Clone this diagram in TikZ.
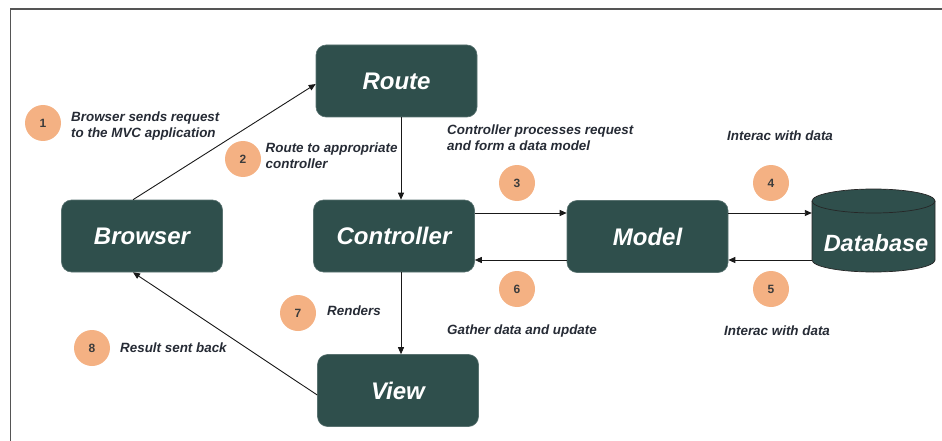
\documentclass[tikz,border=0pt]{standalone}
\usepackage{fontspec}
\setmainfont{Liberation Sans}
\usetikzlibrary{arrows.meta,calc}
\definecolor{boxfill}{HTML}{2F4F4C}
\definecolor{peach}{HTML}{F4B183}
\definecolor{numcol}{HTML}{3C3C3C}
\definecolor{labcol}{HTML}{262B35}
\definecolor{framecol}{HTML}{555555}
\tikzset{
  mvcbox/.style={rectangle, rounded corners=10pt, fill=boxfill, draw=boxfill!80!white, line width=0.6pt,
    minimum width=161pt, minimum height=72pt, inner sep=0pt, text=white,
    font=\fontsize{24}{28}\selectfont\bfseries\itshape},
  numcirc/.style={circle, fill=peach, minimum size=36pt, inner sep=0pt, text=numcol,
    font=\fontsize{12}{14}\selectfont\bfseries},
  lab/.style={anchor=north west, inner sep=0pt, align=left, text=labcol,
    font=\fontsize{13.4}{16}\selectfont\bfseries\itshape},
  conn/.style={draw=black!90, line width=0.9pt, -{Triangle[length=7pt,width=6pt]}},
  plainconn/.style={draw=black!90, line width=0.9pt}
}
\begin{document}
\begin{tikzpicture}[x=1pt,y=-1pt]
\useasboundingbox (0,0) rectangle (942,441);
% frame
\draw[framecol, line width=1.8pt] (942,9) -- (10.5,9) -- (10.5,441);

% boxes
\node[mvcbox] (route) at (396.5,81) {Route};
\node[mvcbox] (browser) at (142,236) {Browser};
\node[mvcbox] (controller) at (394,236) {Controller};
\node[mvcbox] (model) at (647.5,236.5) {Model};
\node[mvcbox] (view) at (398,390.5) {View};

% database cylinder
\node[minimum width=123pt, minimum height=84pt, inner sep=0pt] (db) at (873.5,230.5) {};
\filldraw[fill=boxfill, draw=black!85, line width=0.7pt]
  (812,201) -- (812,260) arc[start angle=180, end angle=360, x radius=61.5pt, y radius=12pt]
  -- (935,201) arc[start angle=0, end angle=180, x radius=61.5pt, y radius=12pt] -- cycle;
\draw[black!85, line width=0.7pt] (812,201) arc[start angle=180, end angle=360, x radius=61.5pt, y radius=12pt];
\node[text=white, font=\fontsize{23.5}{28}\selectfont\bfseries\itshape, inner sep=0pt] (dbtext) at (876,243) {Database};

% connectors
\draw[conn] ($(browser.north)+(-9,0)$) -- ($(route.west)+(0,3)$);
\draw[conn] ($(route.south)+(4.5,0)$) -- ($(controller.north)+(7,0)$);
\draw[conn] ($(controller.east)+(0,-23)$) -- ($(model.west)+(0,-23.5)$);
\draw[conn] ($(model.west)+(0,23.5)$) -- ($(controller.east)+(0,24)$);
\draw[conn] ($(model.east)+(0,-23.5)$) -- ($(db.west)+(0,-17.5)$);
\draw[conn] ($(db.west)+(0,29.5)$) -- ($(model.east)+(0,23.5)$);
\draw[conn] ($(controller.south)+(7,0)$) -- ($(view.north)+(3,0)$);
\draw[conn] ($(view.west)+(0,4.5)$) -- ($(browser.south)+(-9,0)$);

% number circles
\node[numcirc] (n1) at (43,123) {1};
\node[numcirc] (n2) at (243,159) {2};
\node[numcirc] (n3) at (517,183) {3};
\node[numcirc] (n4) at (771,183) {4};
\node[numcirc] (n5) at (771,289) {5};
\node[numcirc] (n6) at (517,289) {6};
\node[numcirc] (n7) at (298,313) {7};
\node[numcirc] (n8) at (92,348) {8};

% labels
\node[lab] (l1) at (71,112) {Browser sends request\\to the MVC application};
\node[lab] (l2) at (265.5,143) {Route to appropriate\\controller};
\node[lab] (l3) at (447,125) {Controller processes request\\and form a data model};
\node[lab] (l4) at (727,131) {Interac with data};
\node[lab] (l5) at (724,326) {Interac with data};
\node[lab] (l6) at (447,325) {Gather data and update};
\node[lab] (l7) at (327,306) {Renders};
\node[lab] (l8) at (120,343) {Result sent back};
\end{tikzpicture}
\end{document}
